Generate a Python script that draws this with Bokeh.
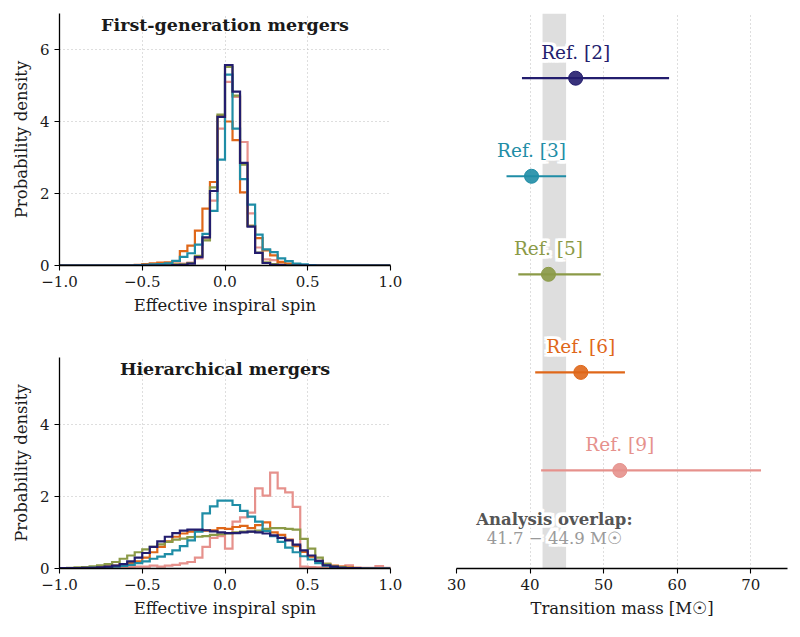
import numpy as np
from bokeh.plotting import figure
from bokeh.layouts import row, column
from bokeh.models import (Range1d, FixedTicker, ColumnDataSource, BoxAnnotation,
                          CustomJSTickFormatter)
from bokeh.core.properties import value
from bokeh.embed import file_html
from bokeh.resources import INLINE

SERIF = "DejaVu Serif"

# ---------------- data ----------------
REFS = ["Ref. [2]", "Ref. [3]", "Ref. [5]", "Ref. [6]", "Ref. [9]"]
COLORS = ["#231d6e", "#1f8da6", "#8b9a47", "#df6719", "#e6918c"]

PANEL_TITLES = ["First-generation mergers", "Hierarchical mergers"]
X_LABEL_LEFT = "Effective inspiral spin"
Y_LABEL_LEFT = "Probability density"
X_LABEL_RIGHT = "Transition mass [M\u2609]"

SPIN_MIN, SPIN_MAX, N_BINS = -1.0, 1.0, 44
SPIN_TICKS = [-1.0, -0.5, 0.0, 0.5, 1.0]
TOP_YTICKS = [0, 2, 4, 6]
BOT_YTICKS = [0, 2, 4]
MASS_TICKS = [30, 40, 50, 60, 70]

# first-generation histograms: bins index -12 .. 11 (bin k spans [k*w, (k+1)*w])
TOP_FIRST_BIN = -12
TOP_REF2 = [0, 0, 0, 0, 0, 0.01, 0.02, 0.05, 0.23, 0.78, 2.07, 4.13,
            5.57, 4.83, 2.85, 1.08, 0.35, 0.07, 0.02, 0.01, 0, 0, 0, 0]
TOP_REF3 = [0.01, 0.02, 0.03, 0.04, 0.06, 0.13, 0.24, 0.34, 0.58, 0.88, 1.52, 2.94,
            5.30, 3.80, 2.40, 1.69, 0.86, 0.45, 0.37, 0.20, 0.12, 0.05, 0.03, 0.01]
TOP_REF5 = [0, 0, 0.01, 0.01, 0.02, 0.03, 0.03, 0.07, 0.27, 0.70, 2.17, 4.19,
            5.52, 4.72, 2.80, 1.10, 0.36, 0.09, 0.04, 0.02, 0.01, 0, 0, 0]
TOP_REF6 = [0.02, 0.04, 0.06, 0.08, 0.09, 0.12, 0.40, 0.55, 0.97, 1.58, 2.32, 4.15,
            4.00, 3.48, 2.03, 1.10, 0.76, 0.42, 0.28, 0.10, 0.05, 0.03, 0.01, 0]
TOP_REF9 = [0, 0, 0.01, 0.02, 0.03, 0.05, 0.05, 0.08, 0.20, 0.75, 1.80, 3.80,
            5.10, 4.68, 3.43, 1.45, 0.50, 0.17, 0.15, 0.06, 0.03, 0.02, 0.01, 0]

# hierarchical histograms: bins index -22 .. 21
BOT_FIRST_BIN = -22
BOT_REF2 = [0.01, 0.01, 0.01, 0.02, 0.02, 0.03, 0.05, 0.08, 0.12, 0.20, 0.30,
            0.43, 0.60, 0.75, 0.88, 0.98, 1.05, 1.08, 1.08, 1.06, 1.03, 1.00,
            0.98, 0.98, 1.00, 1.02, 1.00, 0.97, 0.92, 0.85, 0.78, 0.66, 0.50,
            0.36, 0.21, 0.09, 0.05, 0.02, 0.01, 0.01, 0, 0, 0, 0]
BOT_REF3 = [0, 0.01, 0.01, 0.01, 0.02, 0.02, 0.03, 0.05, 0.07, 0.10, 0.15,
            0.20, 0.27, 0.33, 0.40, 0.50, 0.62, 0.78, 1.02, 1.53, 1.72, 1.88,
            1.88, 1.76, 1.60, 1.44, 1.30, 1.04, 0.90, 0.74, 0.58, 0.45, 0.34,
            0.25, 0.15, 0.08, 0.04, 0.02, 0.01, 0.01, 0, 0, 0, 0]
BOT_REF5 = [0.01, 0.02, 0.03, 0.04, 0.06, 0.09, 0.12, 0.18, 0.27, 0.36, 0.45,
            0.53, 0.60, 0.67, 0.74, 0.80, 0.83, 0.87, 0.88, 0.90, 0.93, 0.95,
            0.97, 1.00, 1.02, 1.02, 1.05, 1.10, 1.12, 1.12, 1.10, 1.08, 0.82,
            0.55, 0.30, 0.13, 0.06, 0.03, 0.02, 0.01, 0, 0, 0, 0]
BOT_REF6 = [0.01, 0.01, 0.01, 0.02, 0.03, 0.04, 0.06, 0.08, 0.12, 0.15, 0.20,
            0.30, 0.45, 0.60, 0.75, 0.88, 0.97, 1.02, 1.04, 1.05, 1.06, 1.12,
            1.10, 1.15, 1.18, 1.12, 1.20, 1.28, 1.00, 0.93, 0.80, 0.62, 0.46,
            0.33, 0.21, 0.13, 0.08, 0.05, 0.03, 0.02, 0.01, 0, 0, 0]
BOT_REF9 = [0, 0, 0, 0.01, 0.01, 0.02, 0.02, 0.02, 0.03, 0.04, 0.05,
            0.05, 0.08, 0.05, 0.08, 0.10, 0.14, 0.18, 0.30, 0.60, 0.85, 0.90,
            0.55, 1.30, 1.42, 1.55, 2.22, 2.02, 2.66, 2.22, 2.11, 1.71, 0.05,
            0.04, 0.03, 0.03, 0.03, 0.05, 0.09, 0.02, 0.02, 0.02, 0.07, 0.02]

TOP_HISTS = [TOP_REF2, TOP_REF3, TOP_REF5, TOP_REF6, TOP_REF9]
BOT_HISTS = [BOT_REF2, BOT_REF3, BOT_REF5, BOT_REF6, BOT_REF9]

# transition mass estimates (median, lower, upper) in solar masses
MASS_MEDIAN = [46.2, 40.2, 42.5, 46.9, 52.2]
MASS_LOWER = [38.9, 36.8, 38.4, 40.7, 41.5]
MASS_UPPER = [58.9, 44.9, 49.6, 52.9, 71.4]
ROW_POS = [5, 4, 3, 2, 1]
OVERLAP = (41.7, 44.9)

TEXT_DARK = "#1a1a1a"

# ---------------- helpers ----------------


def step_xy(vals, first_bin):
    full = np.zeros(N_BINS)
    start = first_bin + N_BINS // 2
    full[start:start + len(vals)] = vals
    edges = np.linspace(SPIN_MIN, SPIN_MAX, N_BINS + 1)
    xs = np.repeat(edges, 2)
    ys = np.concatenate([[0.0], np.repeat(full, 2), [0.0]])
    return xs, ys


def style_axis(ax):
    ax.axis_line_color = "black"
    ax.axis_line_width = 1.3
    ax.major_tick_line_color = "black"
    ax.major_tick_line_width = 1.1
    ax.major_tick_out = 5
    ax.major_tick_in = 0
    ax.minor_tick_line_color = None
    ax.major_label_text_font = SERIF
    ax.major_label_text_font_size = "15px"
    ax.major_label_text_color = TEXT_DARK
    ax.axis_label_text_font = SERIF
    ax.axis_label_text_font_size = "16.5px"
    ax.axis_label_text_font_style = "normal"
    ax.axis_label_text_color = TEXT_DARK
    ax.axis_label_standoff = 6
    ax.major_label_standoff = 5


def style_grid(g):
    g.grid_line_color = "#bdbdbd"
    g.grid_line_dash = "1 3"
    g.grid_line_width = 1


spin_fmt = CustomJSTickFormatter(code="""
    return (tick < 0 ? "\\u2212" : "") + Math.abs(tick).toFixed(1);
""")

HALO_OFFSETS = [(dx, dy) for dx in (-2.5, 0, 2.5) for dy in (-2.5, 0, 2.5)]


def outlined_text(p, source, color_field, **kw):
    # thick white halo underneath, coloured text on top
    for dx, dy in HALO_OFFSETS:
        p.text(source=source, text_color="white", text_outline_color="white",
               x_offset=dx, y_offset=dy, **kw)
    p.text(source=source, text_color=color_field, **kw)


def hist_panel(hists, first_bin, ymax, yticks, title, title_y, fh, bt, bb):
    p = figure(frame_width=331, frame_height=fh, x_range=Range1d(SPIN_MIN, SPIN_MAX),
               y_range=Range1d(0, ymax), output_backend="svg", toolbar_location=None,
               min_border_left=59, min_border_right=19, min_border_top=bt,
               min_border_bottom=bb)
    p.outline_line_color = None
    p.background_fill_color = "white"
    p.xaxis.ticker = FixedTicker(ticks=SPIN_TICKS)
    p.xaxis.formatter = spin_fmt
    p.yaxis.ticker = FixedTicker(ticks=yticks)
    p.xaxis.axis_label = X_LABEL_LEFT
    p.yaxis.axis_label = Y_LABEL_LEFT
    style_axis(p.xaxis[0])
    style_axis(p.yaxis[0])
    style_grid(p.xgrid[0])
    style_grid(p.ygrid[0])
    order = [4, 3, 2, 1, 0]
    for i in order:
        xs, ys = step_xy(hists[i], first_bin)
        p.line(xs, ys, line_color=COLORS[i], line_width=2.2, line_join="miter")
    src = ColumnDataSource(dict(x=[0.0], y=[title_y], t=[title]))
    p.text(x="x", y="y", text="t", source=src, text_font=value(SERIF),
           text_font_style="bold", text_font_size="17.5px", text_align="center",
           text_baseline="middle", text_color=TEXT_DARK)
    return p


p1 = hist_panel(TOP_HISTS, TOP_FIRST_BIN, 7.0, TOP_YTICKS, PANEL_TITLES[0], 6.67, 252, 13, 87)
p2 = hist_panel(BOT_HISTS, BOT_FIRST_BIN, 5.85, BOT_YTICKS, PANEL_TITLES[1], 5.54, 211, 5, 61)

# ---------------- right panel ----------------
p3 = figure(frame_width=331, frame_height=555, x_range=Range1d(30, 75),
            y_range=Range1d(0, 5.66), output_backend="svg", toolbar_location=None,
            min_border_left=47, min_border_right=5, min_border_top=13, min_border_bottom=61)
p3.outline_line_color = None
p3.yaxis.visible = False
p3.ygrid.visible = False
p3.xaxis.ticker = FixedTicker(ticks=MASS_TICKS)
p3.xaxis.axis_label = X_LABEL_RIGHT
style_axis(p3.xaxis[0])
style_grid(p3.xgrid[0])

band = BoxAnnotation(left=OVERLAP[0], right=OVERLAP[1], fill_color="#dedede",
                     fill_alpha=1.0, line_color=None, level="underlay")
p3.add_layout(band)

src = ColumnDataSource(dict(
    med=MASS_MEDIAN, lo=MASS_LOWER, hi=MASS_UPPER, y=ROW_POS,
    ly=[v + 0.26 for v in ROW_POS], ref=REFS, c=COLORS))
p3.segment(x0="lo", y0="y", x1="hi", y1="y", line_color="c", line_width=2.2, source=src)
p3.scatter(x="med", y="y", size=14, fill_color="c", fill_alpha=0.9, line_color="c",
           source=src)
outlined_text(p3, src, "c", x="med", y="ly", text="ref", text_font=value(SERIF),
              text_font_size="18.5px", text_align="center", text_baseline="middle")

mid = 0.5 * (OVERLAP[0] + OVERLAP[1])
osrc = ColumnDataSource(dict(
    x=[mid, mid], y=[0.5, 0.31],
    t=["Analysis overlap:", f"{OVERLAP[0]} \u2212 {OVERLAP[1]} M\u2609"],
    c=["#555555", "#9a9a9a"], s=["bold", "normal"]))
outlined_text(p3, osrc, "c", x="x", y="y", text="t", text_font_style="s",
              text_font=value(SERIF), text_font_size="16.5px", text_align="center",
              text_baseline="middle")

layout = row(column(p1, p2), p3)
open("out.html", "w").write(file_html(layout, INLINE))
